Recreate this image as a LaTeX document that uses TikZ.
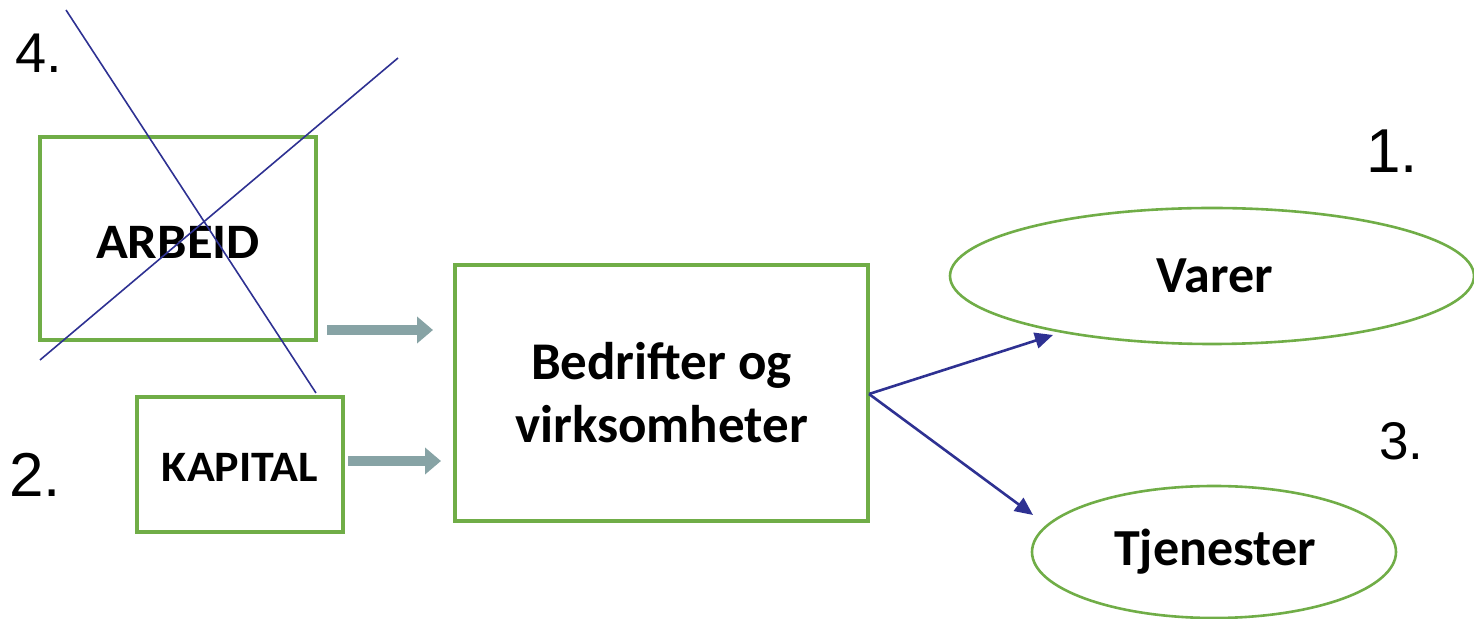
\documentclass[tikz,border=0pt]{standalone}
\usepackage{fontspec}
\newfontfamily\calfont{Carlito}
\newfontfamily\calwide{Carlito}[FakeStretch=1.06]
\newfontfamily\arfont{Liberation Sans}
\usetikzlibrary{arrows.meta,calc}
\definecolor{boxgreen}{HTML}{70AD47}
\definecolor{crossblue}{HTML}{2E3192}
\definecolor{arrowgray}{HTML}{87A3A5}
\tikzset{
  greenbox/.style={draw=boxgreen, line width=1.6pt, rectangle, inner sep=0pt, outer sep=0pt, align=center},
  numlabel/.style={inner sep=0pt, anchor=base west},
  grayarrow/.style={draw=arrowgray, line width=5pt, -{Triangle[length=8pt,width=13pt]}},
  bluearrow/.style={draw=crossblue, line width=1.3pt, -{Triangle[length=9pt,width=8pt]}},
  crossline/.style={draw=crossblue, line width=0.8pt},
  ovaltext/.style={font=\calfont\bfseries\fontsize{26}{31}\selectfont, inner sep=0pt},
}
\begin{document}
\begin{tikzpicture}[x=0.5pt,y=-0.5pt]
\useasboundingbox (0,0) rectangle (1474,619);
% boxes
\node[greenbox, minimum width=138pt, minimum height=101.5pt, text height=20pt, text depth=0pt,
      font=\calwide\bfseries\fontsize{24.8}{29}\selectfont] (arbeid) at (178,238.5) {ARBEID};
\node[greenbox, minimum width=103pt, minimum height=67.5pt, text height=17.5pt, text depth=0pt,
      font=\calwide\bfseries\fontsize{21.7}{26}\selectfont] (kapital) at (240,464.5) {KAPITAL};
\node[greenbox, minimum width=206.5pt, minimum height=128pt,
      font=\calfont\bfseries\fontsize{26.5}{31.5}\selectfont] (bedrift) at (661.5,393) {Bedrifter og\\virksomheter};
% ellipses
\draw[boxgreen, line width=1.3pt] (1212,276) ellipse [x radius=262, y radius=68];
\node[ovaltext] (varer) at (1215,276) {Varer};
\draw[boxgreen, line width=1.3pt] (1214,552) ellipse [x radius=182, y radius=66];
\node[ovaltext] (tjen) at (1215,552) {Tjenester};
% numbers
\node[numlabel, font=\arfont\fontsize{28}{32}\selectfont] (n4) at (15,73) {4.};
\node[numlabel, font=\arfont\fontsize{31}{35}\selectfont] (n2) at (9,497) {2.};
\node[numlabel, font=\arfont\fontsize{31}{35}\selectfont] (n1) at (1366,173) {1.};
\node[numlabel, font=\arfont\fontsize{26.5}{30}\selectfont] (n3) at (1379,460) {3.};
% cross
\coordinate (c1a) at (66,10);
\coordinate (c1b) at (316,393);
\coordinate (c2a) at (40,360);
\coordinate (c2b) at (398,58);
\draw[crossline] (c1a) -- (c1b);
\draw[crossline] (c2a) -- (c2b);
% gray arrows
\coordinate (g1a) at (327,330);
\coordinate (g1b) at (433,330);
\coordinate (g2a) at (348,461);
\coordinate (g2b) at (441,461);
\draw[grayarrow] (g1a) -- (g1b);
\draw[grayarrow] (g2a) -- (g2b);
% blue arrows
\coordinate (src) at (869,394);
\coordinate (va) at (1053,335);
\coordinate (tj) at (1033,515);
\draw[bluearrow] (src) -- (va);
\draw[bluearrow] (src) -- (tj);
\end{tikzpicture}
\end{document}
